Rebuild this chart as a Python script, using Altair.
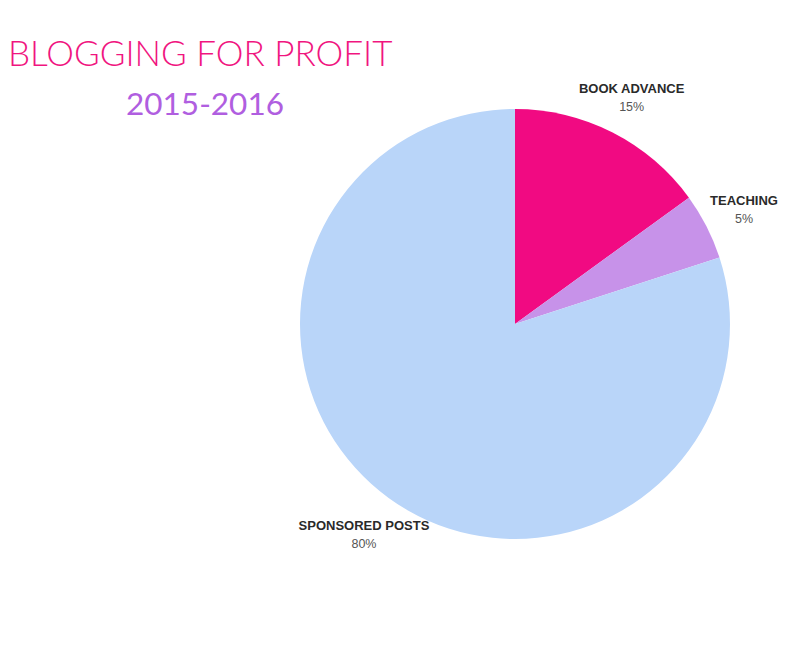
import altair as alt
import pandas as pd

categories = ["BOOK ADVANCE", "TEACHING", "SPONSORED POSTS"]
values = [15, 5, 80]
pct_labels = ["15%", "5%", "80%"]
colors = ["#F10A82", "#C792E9", "#B9D5F9"]

df = pd.DataFrame({
    "category": categories,
    "value": values,
    "pct": pct_labels,
    "idx": list(range(len(categories))),
})

CX, CY = 507, 316

base = alt.Chart(df).encode(
    theta=alt.Theta("value:Q", stack=True),
    order=alt.Order("idx:Q"),
    x=alt.value(CX),
    y=alt.value(CY),
)

arcs = base.mark_arc(outerRadius=215).encode(
    color=alt.Color("category:N", scale=alt.Scale(domain=categories, range=colors),
                    sort=categories, legend=None)
)

names = base.mark_text(radius=257, dy=-6, font="Liberation Sans", fontWeight="bold",
                       fontSize=13, color="#2a2a2a").encode(text="category:N")
pcts = base.mark_text(radius=257, dy=12, font="Liberation Sans", fontSize=12.5,
                      color="#555555").encode(text="pct:N")

title_df = pd.DataFrame({"t": ["BLOGGING FOR PROFIT"]})
sub_df = pd.DataFrame({"t": ["2015-2016"]})

title = alt.Chart(title_df).mark_text(font="Lato", fontWeight=300, fontSize=35,
                                      color="#F0157F", align="left", baseline="alphabetic").encode(
    text="t:N", x=alt.value(0), y=alt.value(58))
sub = alt.Chart(sub_df).mark_text(font="Lato", fontWeight=400, fontSize=31.5,
                                  color="#B05EE0", align="center", baseline="alphabetic").encode(
    text="t:N", x=alt.value(197), y=alt.value(107))

chart = alt.layer(arcs, names, pcts, title, sub).properties(
    width=784, height=632, autosize=alt.AutoSizeParams(type="none"), padding=0
).configure_view(stroke=None)

chart.save("out.html", embed_options={"renderer": "svg", "actions": False})
